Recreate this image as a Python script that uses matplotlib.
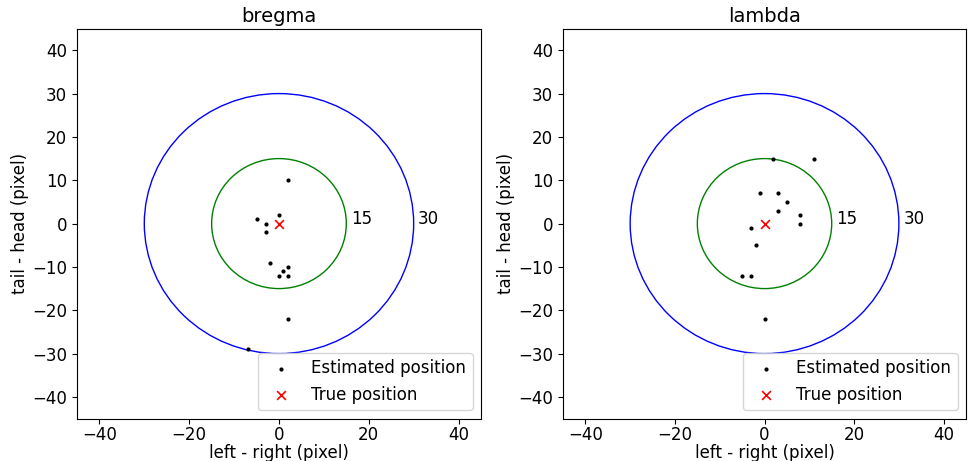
import matplotlib
matplotlib.use('Agg')
import matplotlib.pyplot as plt
from matplotlib.patches import Circle

# 추정 위치 (pixel 단위, 그림에서 읽은 값)
bregma_x = [2, 0, -5, -3, -3, -2, 2, 1, 0, 2, 2, -7]
bregma_y = [10, 2, 1, 0, -2, -9, -10, -11, -12, -12, -22, -29]
lambda_x = [2, 11, -1, 3, 5, 3, 8, 8, -3, -2, -5, -3, 0]
lambda_y = [15, 15, 7, 7, 5, 3, 2, 0, -1, -5, -12, -12, -22]

true_x = [0]
true_y = [0]

radii = [15, 30]
radius_colors = ['green', 'blue']
titles = ['bregma', 'lambda']
xticks = [-40, -20, 0, 20, 40]
yticks = [-40, -30, -20, -10, 0, 10, 20, 30, 40]

plt.rcParams['font.size'] = 12

fig = plt.figure(figsize=(9.68, 4.61), dpi=100)
ax1 = fig.add_axes([0.0795, 0.092, 0.4174, 0.846])
ax2 = fig.add_axes([0.5816, 0.092, 0.4164, 0.846])

data = [(bregma_x, bregma_y), (lambda_x, lambda_y)]

for ax, title, (xs, ys) in zip([ax1, ax2], titles, data):
    for r, c in zip(radii, radius_colors):
        ax.add_patch(Circle((0, 0), r, fill=False, color=c, lw=1))
        ax.text(r + 1, 0, str(r), fontsize=12)
    ax.scatter(xs, ys, s=16, marker='.', color='black', label='Estimated position')
    ax.scatter(true_x, true_y, s=40, marker='x', color='red', linewidths=1.2,
               label='True position')
    ax.set_xlim(-45, 45)
    ax.set_ylim(-45, 45)
    ax.set_xticks(xticks)
    ax.set_yticks(yticks)
    ax.tick_params(axis='x', pad=2)
    ax.set_title(title, fontsize=14, pad=5)
    ax.set_xlabel('left - right (pixel)', labelpad=0)
    ax.set_ylabel('tail - head (pixel)', labelpad=2)
    ax.legend(loc='lower right', fontsize=12)

plt.savefig('out.png', dpi=100)
plt.close()
